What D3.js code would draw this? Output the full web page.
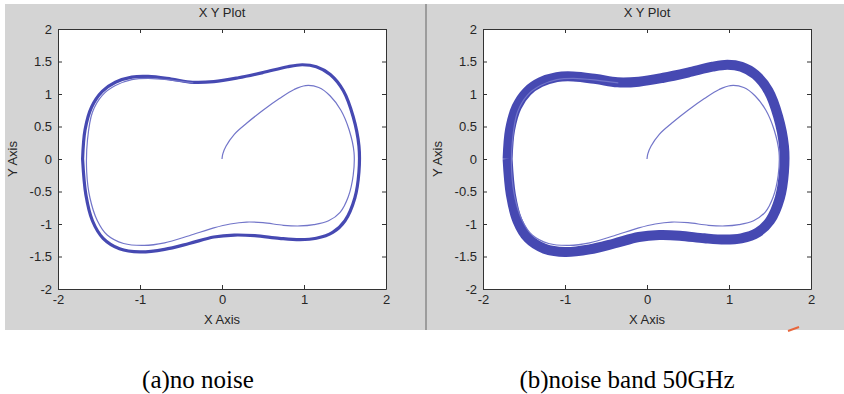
<!DOCTYPE html>
<html lang="en">
<head>
<meta charset="UTF-8">
<title>X Y Plot - no noise / noise band 50GHz</title>
<style>
  body { margin: 0; background: #fff; }
  svg text { font-family: "Liberation Sans", Arial, sans-serif; fill: #262626; }
  svg text.caption { font-family: "Liberation Serif", "Times New Roman", serif; fill: #000; }
</style>
</head>
<body>
<div id="chart"></div>
<script src="https://d3js.org/d3.v7.min.js"></script>
<script>
var xTicks = [-2, -1, 0, 1, 2];
var xTickLabels = ["-2", "-1", "0", "1", "2"];
var yTicks = [-2, -1.5, -1, -0.5, 0, 0.5, 1, 1.5, 2];
var yTickLabels = ["-2", "-1.5", "-1", "-0.5", "0", "0.5", "1", "1.5", "2"];
var captions = ["(a)no noise", "(b)noise band 50GHz"];

// settled limit cycle (x, y)
var limitCycle = [
    [-1.70, 0.00], [-1.67, 0.45], [-1.59, 0.80], [-1.46, 1.04], [-1.30, 1.18],
    [-1.10, 1.26], [-0.90, 1.27], [-0.62, 1.23], [-0.36, 1.18], [-0.10, 1.19],
    [0.20, 1.25], [0.50, 1.33], [0.80, 1.42], [0.98, 1.45], [1.15, 1.42],
    [1.32, 1.30], [1.48, 1.05], [1.60, 0.65], [1.67, 0.20], [1.67, -0.20],
    [1.62, -0.60], [1.50, -0.95], [1.35, -1.13], [1.15, -1.22], [0.95, -1.24],
    [0.70, -1.22], [0.40, -1.18], [0.15, -1.17], [-0.10, -1.20], [-0.40, -1.30],
    [-0.70, -1.39], [-1.00, -1.43], [-1.25, -1.38], [-1.45, -1.22], [-1.58, -0.95],
    [-1.66, -0.55], [-1.70, 0.00]
];

// start-up transient from the origin
var transient = [
    [0.00, 0.00], [0.01, 0.08], [0.05, 0.20], [0.15, 0.38], [0.30, 0.55],
    [0.50, 0.75], [0.70, 0.93], [0.88, 1.07], [1.02, 1.13], [1.18, 1.10],
    [1.32, 0.97], [1.45, 0.75], [1.55, 0.45], [1.61, 0.10], [1.60, -0.25],
    [1.54, -0.58], [1.44, -0.82], [1.30, -0.95], [1.12, -1.01], [0.95, -1.03],
    [0.75, -1.02], [0.50, -0.98], [0.30, -0.97], [0.10, -1.00], [-0.10, -1.06],
    [-0.40, -1.18], [-0.70, -1.29], [-0.95, -1.33], [-1.20, -1.30], [-1.40, -1.17],
    [-1.52, -0.95], [-1.61, -0.60], [-1.65, -0.20], [-1.64, 0.30], [-1.58, 0.72],
    [-1.46, 0.98], [-1.30, 1.13], [-1.10, 1.22], [-0.90, 1.24], [-0.60, 1.21],
    [-0.35, 1.17]
];

var width = 844, height = 394;

var svg = d3.select("#chart").append("svg")
    .attr("width", width)
    .attr("height", height);

// grey figure windows
svg.append("rect").attr("x", 5).attr("y", 4).attr("width", 420).attr("height", 326).attr("fill", "#d4d4d4");
svg.append("rect").attr("x", 425).attr("y", 4).attr("width", 2).attr("height", 326).attr("fill", "#9c9c9c");
svg.append("rect").attr("x", 427).attr("y", 4).attr("width", 417).attr("height", 326).attr("fill", "#d4d4d4");

var panels = [
    { left: 58, bandWidth: 3.2, caption: captions[0], captionX: 198 },
    { left: 483, bandWidth: 10, caption: captions[1], captionX: 627 }
];

var plotTop = 29, plotBottom = 289, plotW = 328;

panels.forEach(function(p) {
    var x = d3.scaleLinear().domain([-2, 2]).range([p.left, p.left + plotW]);
    var y = d3.scaleLinear().domain([-2, 2]).range([plotBottom, plotTop]);
    var g = svg.append("g");

    g.append("rect")
        .attr("x", p.left).attr("y", plotTop)
        .attr("width", plotW).attr("height", plotBottom - plotTop)
        .attr("fill", "#fff");

    var line = d3.line()
        .x(function(d) { return x(d[0]); })
        .y(function(d) { return y(d[1]); })
        .curve(d3.curveCatmullRom.alpha(0.5));

    g.append("path")
        .attr("d", line(limitCycle))
        .attr("fill", "none")
        .attr("stroke", "#4649b2")
        .attr("stroke-width", p.bandWidth)
        .attr("stroke-linejoin", "round");

    g.append("path")
        .attr("d", line(transient))
        .attr("fill", "none")
        .attr("stroke", "#7275c9")
        .attr("stroke-width", 1.2);

    // axes with inward ticks on all four sides
    var fmtX = function(d) { return xTickLabels[xTicks.indexOf(d)]; };
    var fmtY = function(d) { return yTickLabels[yTicks.indexOf(d)]; };

    var axes = [
        [d3.axisBottom(x).tickValues(xTicks).tickFormat(fmtX), "translate(0," + plotBottom + ")"],
        [d3.axisTop(x).tickValues(xTicks).tickFormat(""), "translate(0," + plotTop + ")"],
        [d3.axisLeft(y).tickValues(yTicks).tickFormat(fmtY), "translate(" + p.left + ",0)"],
        [d3.axisRight(y).tickValues(yTicks).tickFormat(""), "translate(" + (p.left + plotW) + ",0)"]
    ];
    axes.forEach(function(a) {
        var ag = g.append("g").attr("transform", a[1])
            .call(a[0].tickSizeInner(-4).tickSizeOuter(0).tickPadding(6));
        ag.select(".domain").attr("stroke", "#333");
        ag.selectAll(".tick line").attr("stroke", "#333");
        ag.selectAll(".tick text").style("font-size", "13px").attr("fill", "#262626")
            .attr("font-family", null);
    });

    var cx = p.left + plotW / 2;
    g.append("text").attr("x", cx).attr("y", 17)
        .attr("text-anchor", "middle").style("font-size", "13px").text("X Y Plot");
    g.append("text").attr("x", cx).attr("y", 324)
        .attr("text-anchor", "middle").style("font-size", "13px").text("X Axis");
    g.append("text")
        .attr("transform", "translate(" + (p.left - 41) + "," + ((plotTop + plotBottom) / 2) + ") rotate(-90)")
        .attr("text-anchor", "middle").style("font-size", "13px").text("Y Axis");

    svg.append("text").attr("class", "caption")
        .attr("x", p.captionX).attr("y", 388)
        .attr("text-anchor", "middle").style("font-size", "25px")
        .text(p.caption);
});

// small orange pen mark under the right window
svg.append("path")
    .attr("d", "M788,331 L799,327")
    .attr("stroke", "#e8663c").attr("stroke-width", 2).attr("fill", "none");
</script>
</body>
</html>
